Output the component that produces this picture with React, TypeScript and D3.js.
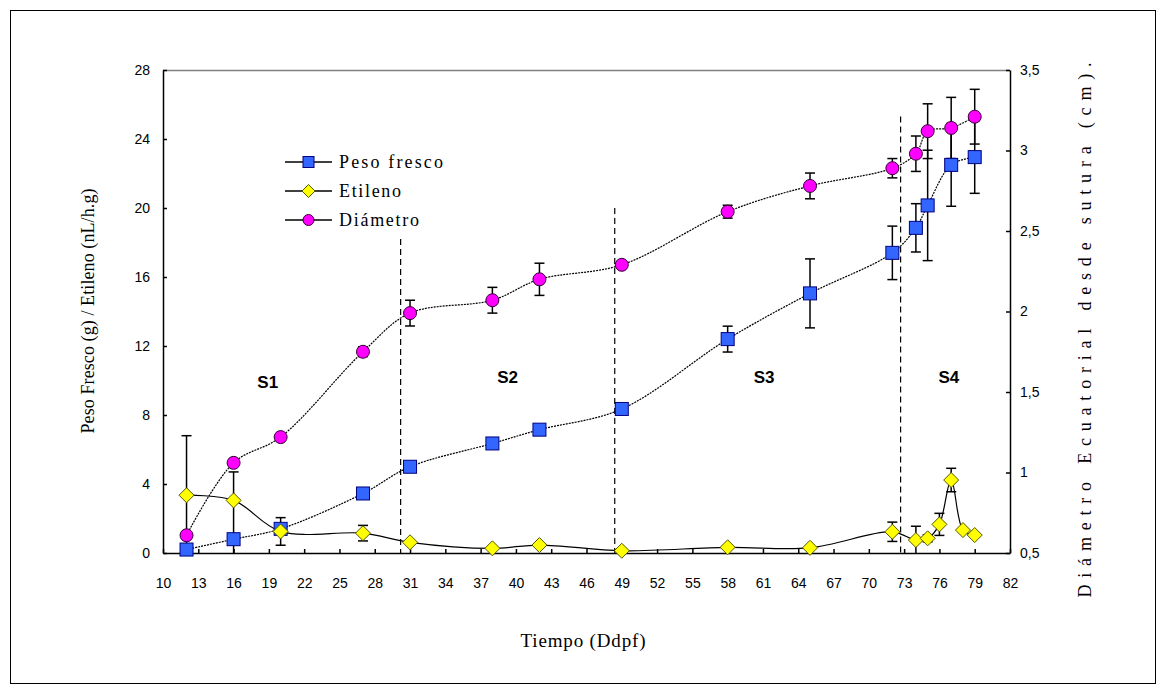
import { useEffect, useRef } from 'react';
import * as d3 from 'd3';

// Peso fresco (g), eje izquierdo
const pesoDays = [12, 16, 20, 27, 31, 38, 42, 49, 58, 65, 72, 74, 75, 77, 79];
const pesoVals = [0.2, 0.8, 1.4, 3.45, 5.0, 6.35, 7.15, 8.35, 12.4, 15.05, 17.4, 18.85, 20.15, 22.5, 22.95];
const pesoErr = [0, 3.9, 0, 0, 0, 0, 0, 0, 0.75, 2.0, 1.55, 1.4, 3.2, 2.4, 2.1];

// Etileno (nL/h.g), eje izquierdo
const etilenoDays = [12, 16, 20, 27, 31, 38, 42, 49, 58, 65, 72, 74, 75, 76, 77, 78, 79];
const etilenoVals = [3.35, 3.05, 1.25, 1.15, 0.62, 0.27, 0.46, 0.13, 0.33, 0.3, 1.23, 0.75, 0.85, 1.66, 4.23, 1.33, 1.04];
const etilenoErr = [3.45, 0, 0.8, 0.45, 0, 0, 0, 0, 0, 0, 0.56, 0.8, 0.2, 0.64, 0.68, 0, 0];

// Diámetro (cm), eje derecho
const diamDays = [12, 16, 20, 27, 31, 38, 42, 49, 58, 65, 72, 74, 75, 77, 79];
const diamVals = [0.61, 1.06, 1.22, 1.75, 1.99, 2.07, 2.2, 2.29, 2.62, 2.78, 2.89, 2.98, 3.12, 3.14, 3.21];
const diamErr = [0, 0, 0.02, 0.03, 0.08, 0.08, 0.1, 0.02, 0.04, 0.08, 0.06, 0.11, 0.17, 0.19, 0.17];

// fases
const phaseDays = [30.2, 48.4, 72.7];
const phaseTops = [18.2, 20, 25.3];
const stageLabels = ['S1', 'S2', 'S3', 'S4'];
const stageX = [18.9, 39.3, 61.1, 76.8];
const stageY = [9.9, 10.2, 10.2, 10.2];

const leftTicks = [0, 4, 8, 12, 16, 20, 24, 28];
const rightTicks = [0.5, 1, 1.5, 2, 2.5, 3, 3.5];
const xTicks = d3.range(10, 83, 3);

export default function App() {
  const ref = useRef<SVGSVGElement | null>(null);

  useEffect(() => {
    const svg = d3.select(ref.current);
    svg.selectAll('*').remove();

    const left = 163, right = 1010, top = 70, bottom = 553;

    const x = d3.scaleLinear().domain([10, 82]).range([left, right]);
    const y = d3.scaleLinear().domain([0, 28]).range([bottom, top]);
    const y2 = d3.scaleLinear().domain([0.5, 3.5]).range([bottom, top]);

    // outer frame
    svg.append('rect')
      .attr('x', 10.5).attr('y', 10.5)
      .attr('width', 1145).attr('height', 673)
      .attr('fill', '#fff').attr('stroke', '#000');

    svg.append('defs').append('clipPath').attr('id', 'plot')
      .append('rect').attr('x', left).attr('y', top - 30)
      .attr('width', right - left).attr('height', bottom - top + 30);

    // top border of plot area
    svg.append('line')
      .attr('x1', left).attr('x2', right).attr('y1', top + 0.5).attr('y2', top + 0.5)
      .attr('stroke', '#808080').attr('stroke-width', 1.5);

    const tickFont = (g: any) => g.selectAll('text')
      .attr('font-family', '"Liberation Sans", Arial, sans-serif')
      .attr('font-size', 14).attr('fill', '#000');

    svg.append('g')
      .attr('transform', `translate(${left},0)`)
      .call(d3.axisLeft(y).tickValues(leftTicks).tickSizeInner(-4).tickSizeOuter(0).tickPadding(13))
      .call(tickFont)
      .call(g => g.selectAll('path, line').attr('stroke', '#000').attr('stroke-width', 1.5));

    svg.append('g')
      .attr('transform', `translate(${right},0)`)
      .call(d3.axisRight(y2).tickValues(rightTicks).tickSizeInner(-4).tickSizeOuter(0).tickPadding(10)
        .tickFormat(d => String(d).replace('.', ',')))
      .call(tickFont)
      .call(g => g.selectAll('path, line').attr('stroke', '#000').attr('stroke-width', 1.5));

    svg.append('g')
      .attr('transform', `translate(0,${bottom})`)
      .call(d3.axisBottom(x).tickValues(xTicks).tickSizeInner(-4).tickSizeOuter(0).tickPadding(25))
      .call(tickFont)
      .call(g => g.selectAll('path, line').attr('stroke', '#000').attr('stroke-width', 1.5));

    // phase dividers
    svg.append('g').selectAll('line')
      .data(phaseDays)
      .join('line')
      .attr('x1', d => x(d)).attr('x2', d => x(d))
      .attr('y1', (d, i) => y(phaseTops[i])).attr('y2', bottom)
      .attr('stroke', '#000').attr('stroke-width', 1.2).attr('stroke-dasharray', '6,4');

    svg.append('g').selectAll('text')
      .data(stageLabels)
      .join('text')
      .attr('x', (d, i) => x(stageX[i])).attr('y', (d, i) => y(stageY[i]))
      .attr('text-anchor', 'middle').attr('dy', '0.35em')
      .attr('font-family', '"Liberation Sans", Arial, sans-serif')
      .attr('font-weight', 'bold').attr('font-size', 17)
      .text(d => d);

    const plot = svg.append('g').attr('clip-path', 'url(#plot)');

    const drawSeries = (days: number[], vals: number[], errs: number[], ys: any, dash: string | null) => {
      const pts = days.map((d, i) => ({ x: x(d), y: ys(vals[i]), e: errs[i] }));
      const line = d3.line<any>().x(d => d.x).y(d => d.y).curve(d3.curveCatmullRom);
      plot.append('path')
        .attr('d', line(pts))
        .attr('fill', 'none').attr('stroke', '#000').attr('stroke-width', 1.2)
        .attr('stroke-dasharray', dash);
      const eg = plot.append('g').attr('stroke', '#000').attr('stroke-width', 1.5);
      days.forEach((d, i) => {
        if (!errs[i]) return;
        const cx = x(d);
        const y1 = ys(vals[i] + errs[i]);
        const y0 = ys(vals[i] - errs[i]);
        eg.append('line').attr('x1', cx).attr('x2', cx).attr('y1', y1).attr('y2', y0);
        eg.append('line').attr('x1', cx - 5).attr('x2', cx + 5).attr('y1', y1).attr('y2', y1);
        eg.append('line').attr('x1', cx - 5).attr('x2', cx + 5).attr('y1', y0).attr('y2', y0);
      });
      return pts;
    };

    const diamond = (cx: number, cy: number, r: number) =>
      `M${cx},${cy - r}L${cx + r},${cy}L${cx},${cy + r}L${cx - r},${cy}Z`;

    const dPts = drawSeries(diamDays, diamVals, diamErr, y2, '2,1');
    svg.append('g').selectAll('circle').data(dPts).join('circle')
      .attr('cx', d => d.x).attr('cy', d => d.y).attr('r', 6.5)
      .attr('fill', '#ff00ff').attr('stroke', '#330033').attr('stroke-width', 1);

    const pPts = drawSeries(pesoDays, pesoVals, pesoErr, y, '2,1');
    svg.append('g').selectAll('rect').data(pPts).join('rect')
      .attr('x', d => d.x - 6.5).attr('y', d => d.y - 6.5)
      .attr('width', 13).attr('height', 13)
      .attr('fill', '#3366ff').attr('stroke', '#000080').attr('stroke-width', 1);

    const ePts = drawSeries(etilenoDays, etilenoVals, etilenoErr, y, null);
    svg.append('g').selectAll('path').data(ePts).join('path')
      .attr('d', d => diamond(d.x, d.y, 7.5))
      .attr('fill', '#ffff00').attr('stroke', '#555500').attr('stroke-width', 1);

    const serif = '"Liberation Serif", "Times New Roman", serif';

    // legend
    const legendNames = ['Peso fresco', 'Etileno', 'Diámetro'];
    const legendLen = [104, 62, 80];
    const leg = svg.append('g');
    legendNames.forEach((name, i) => {
      const ly = 162 + i * 29;
      leg.append('line').attr('x1', 285).attr('x2', 332).attr('y1', ly).attr('y2', ly)
        .attr('stroke', '#000').attr('stroke-width', 1.5);
      if (i === 0) {
        leg.append('rect').attr('x', 303).attr('y', ly - 5.5).attr('width', 11).attr('height', 11)
          .attr('fill', '#3366ff').attr('stroke', '#000080');
      } else if (i === 1) {
        leg.append('path').attr('d', diamond(308.5, ly, 6.5))
          .attr('fill', '#ffff00').attr('stroke', '#555500');
      } else {
        leg.append('circle').attr('cx', 308.5).attr('cy', ly).attr('r', 5.5)
          .attr('fill', '#ff00ff').attr('stroke', '#330033');
      }
      leg.append('text').attr('x', 339).attr('y', ly).attr('dy', '0.35em')
        .attr('font-family', serif)
        .attr('font-size', 18)
        .attr('textLength', legendLen[i]).attr('lengthAdjust', 'spacing')
        .text(name);
    });

    svg.append('text')
      .attr('x', 583).attr('y', 640).attr('dy', '0.35em')
      .attr('text-anchor', 'middle')
      .attr('font-family', serif).attr('font-size', 19)
      .attr('textLength', 125).attr('lengthAdjust', 'spacing')
      .text('Tiempo (Ddpf)');

    svg.append('text')
      .attr('transform', 'translate(88,311) rotate(-90)')
      .attr('text-anchor', 'middle').attr('dy', '0.35em')
      .attr('font-family', serif).attr('font-size', 18)
      .attr('textLength', 245).attr('lengthAdjust', 'spacing')
      .text('Peso Fresco (g) / Etileno (nL/h.g)');

    svg.append('text')
      .attr('transform', 'translate(1085,330) rotate(-90)')
      .attr('text-anchor', 'middle').attr('dy', '0.35em')
      .attr('font-family', serif).attr('font-size', 18)
      .attr('textLength', 535).attr('lengthAdjust', 'spacing')
      .text('Diámetro Ecuatorial desde sutura (cm).');
  }, []);

  return <svg ref={ref} width={1165} height={693} style={{ position: 'absolute', left: 0, top: 0 }} />;
}
